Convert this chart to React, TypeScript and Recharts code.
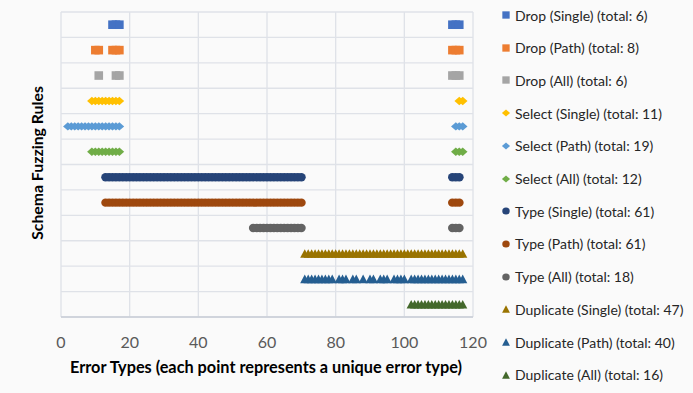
import React from "react";
import {
  ScatterChart,
  Scatter,
  XAxis,
  YAxis,
  CartesianGrid,
  Label
} from "recharts";

// x positions (error type index) hit by each rule
const dropSingle = [15, 16, 17, 114, 115, 116];
const dropPath = [10, 11, 15, 16, 17, 114, 115, 116];
const dropAll = [11, 16, 17, 114, 115, 116];
const selectSingle = [9, 10, 11, 12, 13, 14, 15, 16, 17, 116, 117];
const selectPath = [2, 3, 4, 5, 6, 7, 8, 9, 10, 11, 12, 13, 14, 15, 16, 17, 115, 116, 117];
const selectAll = [9, 10, 11, 12, 13, 14, 15, 16, 17, 115, 116, 117];
const typeSingle = [
  13, 14, 15, 16, 17, 18, 19, 20, 21, 22, 23, 24, 25, 26, 27, 28, 29, 30, 31,
  32, 33, 34, 35, 36, 37, 38, 39, 40, 41, 42, 43, 44, 45, 46, 47, 48, 49, 50, 51,
  52, 53, 54, 55, 56, 57, 58, 59, 60, 61, 62, 63, 64, 65, 66, 67, 68, 69, 70,
  114, 115, 116
];
const typePath = [
  13, 14, 15, 16, 17, 18, 19, 20, 21, 22, 23, 24, 25, 26, 27, 28, 29, 30, 31,
  32, 33, 34, 35, 36, 37, 38, 39, 40, 41, 42, 43, 44, 45, 46, 47, 48, 49, 50, 51,
  52, 53, 54, 55, 56, 57, 58, 59, 60, 61, 62, 63, 64, 65, 66, 67, 68, 69, 70,
  114, 115, 116
];
const typeAll = [56, 57, 58, 59, 60, 61, 62, 63, 64, 65, 66, 67, 68, 69, 70, 114, 115, 116];
const dupSingle = [
  71, 72, 73, 74, 75, 76, 77, 78, 79, 80, 81, 82, 83, 84, 85, 86, 87, 88, 89, 90,
  91, 92, 93, 94, 95, 96, 97, 98, 99, 100, 101, 102, 103, 104, 105, 106, 107, 108,
  109, 110, 111, 112, 113, 114, 115, 116, 117
];
const dupPath = [
  71, 72, 73, 74, 75, 76, 77, 78, 79, 81, 82, 83, 85, 86, 88, 90, 91, 93, 94, 95,
  97, 98, 99, 100, 102, 103, 104, 105, 106, 107, 108, 109, 110, 111, 112, 113, 114,
  115, 116, 117
];
const dupAll = [102, 103, 104, 105, 106, 107, 108, 109, 110, 111, 112, 113, 114, 115, 116, 117];

const ruleNames = [
  "Drop (Single)", "Drop (Path)", "Drop (All)",
  "Select (Single)", "Select (Path)", "Select (All)",
  "Type (Single)", "Type (Path)", "Type (All)",
  "Duplicate (Single)", "Duplicate (Path)", "Duplicate (All)"
];
const ruleHits = [
  dropSingle, dropPath, dropAll,
  selectSingle, selectPath, selectAll,
  typeSingle, typePath, typeAll,
  dupSingle, dupPath, dupAll
];
const ruleColors = [
  "#4472C4", "#ED7D31", "#A5A5A5",
  "#FFC000", "#5B9BD5", "#70AD47",
  "#264478", "#9E480E", "#636363",
  "#997300", "#255E91", "#43682B"
];
const ruleShapes = [
  "square", "square", "square",
  "diamond", "diamond", "diamond",
  "circle", "circle", "circle",
  "triangle", "triangle", "triangle"
];
const xTicks = [0, 20, 40, 60, 80, 100, 120];
const rowTicks = [0, 1, 2, 3, 4, 5, 6, 7, 8, 9, 10, 11, 12];

function Marker({ kind, cx, cy, fill, s = 1 }: any) {
  if (kind === "square") {
    const h = 4.3 * s;
    return <rect x={cx - h} y={cy - h} width={h * 2} height={h * 2} fill={fill} />;
  }
  if (kind === "diamond") {
    const w = 4.8 * s, h = 4.2 * s;
    return <path d={`M${cx - w},${cy}L${cx},${cy - h}L${cx + w},${cy}L${cx},${cy + h}Z`} fill={fill} />;
  }
  if (kind === "circle") {
    return <ellipse cx={cx} cy={cy} rx={4.4 * s} ry={4.2 * s} fill={fill} />;
  }
  const w = 4.6 * s, h = 4.3 * s;
  return <path d={`M${cx - w},${cy + h}L${cx},${cy - h}L${cx + w},${cy + h}Z`} fill={fill} />;
}

const series = ruleNames.map((name, i) => ({
  name,
  color: ruleColors[i],
  shape: ruleShapes[i],
  points: ruleHits[i].map((x) => ({ x, y: 11.5 - i }))
}));

export default function App() {
  return (
    <div style={{ position: "absolute", left: 0, top: 0, width: 693, height: 393, background: "#fafafa", fontFamily: "Lato, sans-serif" }}>
      <ScatterChart width={693} height={393} margin={{ top: 12, right: 220, bottom: 0, left: 0 }}>
        <CartesianGrid
          stroke="#dfe2e8"
          strokeWidth={1.3}
          verticalValues={xTicks}
          horizontalCoordinatesGenerator={({ offset }: any) =>
            rowTicks.map((t) => offset.top + offset.height * (1 - t / 12))
          }
        />
        <XAxis
          type="number"
          dataKey="x"
          domain={[0, 120]}
          ticks={xTicks}
          height={76}
          tickLine={false}
          tickMargin={14}
          axisLine={{ stroke: "#c9ced6", strokeWidth: 1.3 }}
          tick={{ fill: "#595959", fontSize: 16 }}
        >
          <Label
            content={() => (
              <text x={266} y={373} textAnchor="middle" fontSize={16.3} fontWeight="bold" fill="#000">
                Error Types (each point represents a unique error type)
              </text>
            )}
          />
        </XAxis>
        <YAxis
          type="number"
          dataKey="y"
          domain={[0, 12]}
          ticks={rowTicks}
          width={61}
          tick={false}
          tickLine={false}
          axisLine={false}
        >
          <Label
            content={() => (
              <text x={43} y={163} textAnchor="middle" fontSize={15.8} fontWeight="bold" fill="#000" transform="rotate(-90 43 163)">
                Schema Fuzzing Rules
              </text>
            )}
          />
        </YAxis>
        {series.map((s) => (
          <Scatter
            key={s.name}
            name={s.name}
            data={s.points}
            fill={s.color}
            isAnimationActive={false}
            shape={(p: any) => <Marker kind={s.shape} cx={p.cx} cy={p.cy} fill={s.color} />}
          />
        ))}
      </ScatterChart>
      <div style={{ position: "absolute", left: 498, top: 0, width: 195 }}>
        {series.map((s, i) => (
          <div
            key={s.name}
            style={{ position: "absolute", left: 0, top: 5 + i * 32.7, height: 20, display: "flex", alignItems: "center", whiteSpace: "nowrap", fontSize: 14, color: "#262626" }}
          >
            <svg width={14} height={14} style={{ marginRight: 3 }}>
              <Marker kind={s.shape} cx={8} cy={7} fill={s.color} s={0.85} />
            </svg>
            <span>{`${s.name} (total: ${s.points.length})`}</span>
          </div>
        ))}
      </div>
    </div>
  );
}
